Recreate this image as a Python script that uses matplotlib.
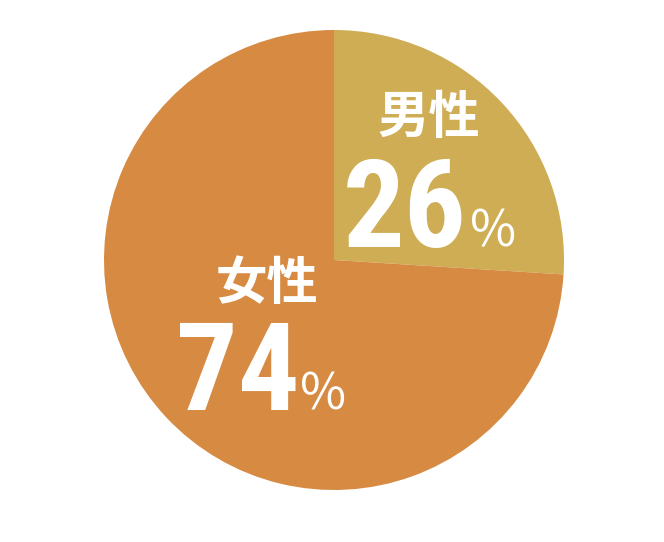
import matplotlib
matplotlib.use("Agg")
import matplotlib.pyplot as plt

labels = ['男性', '女性']
shares = [26, 74]
colors = ['#CFAD55', '#D68A42']

W, H = 664, 542
plt.rcParams['font.family'] = ['Noto Sans CJK JP', 'DejaVu Sans']

fig = plt.figure(figsize=(W / 100, H / 100), dpi=100)
ax = fig.add_axes([104 / W, (H - 490) / H, 460 / W, 460 / H])
ax.pie(shares, colors=colors, startangle=90, counterclock=False,
       wedgeprops=dict(linewidth=0))
ax.set_xlim(-1, 1)
ax.set_ylim(-1, 1)
ax.axis('off')


def px(x, y):
    return x / W, 1 - y / H

# label blocks: (name x, name baseline, number x, number baseline, pct x)
spots = [(378, 133, 343, 247, 470), (216, 299, 176, 410, 300)]
for lab, val, (lx, ly, nx, ny, qx) in zip(labels, shares, spots):
    fig.text(*px(lx, ly), lab, color='white', fontsize=37, fontweight='bold',
             ha='left', va='baseline')
    fig.text(*px(nx, ny), str(val), color='white', fontsize=88, fontweight='bold',
             family=['Liberation Sans Narrow', 'Roboto Condensed', 'Noto Sans CJK JP'],
             ha='left', va='baseline')
    fig.text(*px(qx, ny), '%', color='white', fontsize=36, fontweight='normal',
             ha='left', va='baseline')

fig.savefig('out.png', dpi=100)
